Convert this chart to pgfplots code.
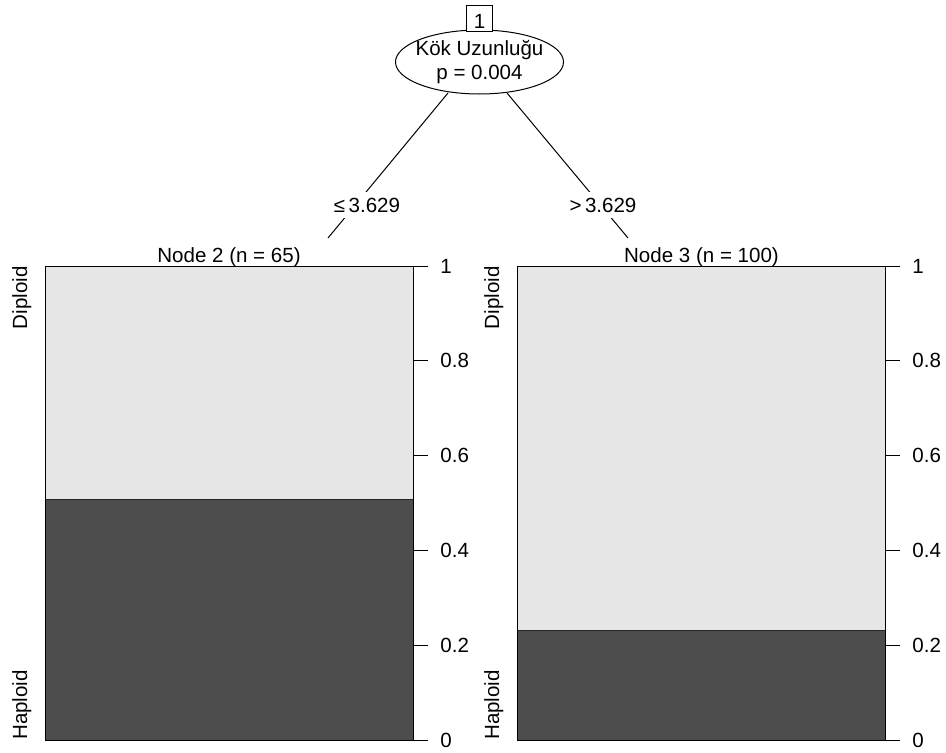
\documentclass[border=0pt]{standalone}
\usepackage{pgfplots}
\pgfplotsset{compat=1.18}
\usepackage{fontspec}
\setmainfont{Liberation Sans}
\definecolor{darkf}{HTML}{4D4D4D}
\definecolor{lightf}{HTML}{E6E6E6}
\newcommand\fs{\fontsize{15.4}{18}\selectfont}
\pgfplotsset{panel/.style={
  at={(#1*0.75pt,-740*0.75pt)}, anchor=south west,
  width=276.5pt, height=355.5pt, scale only axis,
  xmin=0, xmax=1, ymin=0, ymax=1, xtick=\empty,
  ytick={0,0.2,0.4,0.6,0.8,1}, yticklabels={0,0.2,0.4,0.6,0.8,1},
  ytick pos=right, yticklabel pos=right, tick align=outside, major tick length=10.5pt,
  axis line style={black, line width=0.75pt},
  every tick/.style={black, line width=0.75pt},
  yticklabel style={font=\fs, anchor=west, xshift=6pt},
  /pgf/number format/assume math mode=true,
  axis on top}}
\begin{document}
\begin{tikzpicture}
\path[use as bounding box] (0,0) rectangle (946*0.75pt,-753*0.75pt);
% Node 2
\begin{axis}[panel=45]
\addplot[fill=lightf, draw=none] coordinates {(0,1) (1,1)} \closedcycle;
\addplot[fill=darkf, draw=black!85, line width=0.75pt] coordinates {(0,0.5077) (1,0.5077)} \closedcycle;
\end{axis}
% Node 3
\begin{axis}[panel=517]
\addplot[fill=lightf, draw=none] coordinates {(0,1) (1,1)} \closedcycle;
\addplot[fill=darkf, draw=black!85, line width=0.75pt] coordinates {(0,0.23) (1,0.23)} \closedcycle;
\end{axis}
\begin{scope}[x=0.75pt,y=-0.75pt,font=\fs]
% tree edges
\draw[line width=0.75pt] (448,93) -- (328,238);
\draw[line width=0.75pt] (507,93) -- (628,238);
\node[fill=white, inner xsep=1pt, inner ysep=4.5pt] at (367,205) {≤\,3.629};
\node[fill=white, inner xsep=1pt, inner ysep=4.5pt] at (603,205) {>\,3.629};
% root node
\draw[line width=0.75pt, fill=white] (479.5,62) ellipse [x radius=84, y radius=32];
\draw[line width=0.75pt, fill=white] (466.5,5) rectangle (492.5,31);
\node[inner sep=0pt, anchor=base] at (479.5,28) {1};
\node[inner sep=0pt, anchor=base] at (479.5,55) {Kök Uzunluğu};
\node[inner sep=0pt, anchor=base] at (479.5,79) {p = 0.004};
% node titles
\node[inner sep=0pt, anchor=base] at (229,262) {Node 2 (n = 65)};
\node[inner sep=0pt, anchor=base] at (701.5,262) {Node 3 (n = 100)};
% class labels
\node[inner sep=0pt, rotate=90, anchor=base east] at (27,266) {Diploid};
\node[inner sep=0pt, rotate=90, anchor=base west] at (27,740) {Haploid};
\node[inner sep=0pt, rotate=90, anchor=base east] at (499,266) {Diploid};
\node[inner sep=0pt, rotate=90, anchor=base west] at (499,740) {Haploid};
\end{scope}
\end{tikzpicture}
\end{document}
